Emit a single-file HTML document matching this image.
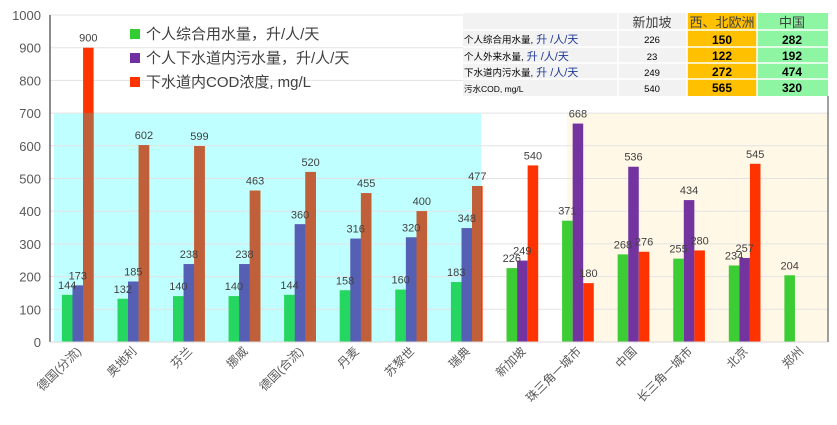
<!DOCTYPE html>
<html><head><meta charset="utf-8"><style>
body{margin:0;background:#fff;width:837px;height:420px;overflow:hidden;font-family:"Liberation Sans","Noto Sans CJK SC",sans-serif}
</style></head><body>
<svg id="chart" width="837" height="420" xmlns="http://www.w3.org/2000/svg" font-family="Liberation Sans, Noto Sans CJK SC, sans-serif">
<defs><clipPath id="cyanClip"><rect x="54" y="113" width="427" height="229"/></clipPath></defs>
<rect x="54" y="113" width="427" height="229" fill="#c0ffff"/>
<rect x="567" y="113" width="261" height="229" fill="#fff8e6"/>
<g id="grid"></g>
<g id="bars"></g>
<g id="muted" clip-path="url(#cyanClip)"></g>
<g id="labels"></g>
<line x1="50" y1="15" x2="50" y2="342" stroke="#404040" stroke-width="1.2"/>
<line x1="50" y1="342" x2="828" y2="342" stroke="#d9d9d9" stroke-width="1"/>
<line x1="828" y1="96" x2="828" y2="342" stroke="#404040" stroke-width="1"/>
<g font-size="15" fill="#404040">
<rect x="130" y="29" width="10" height="10" fill="#33cc33"/>
<text x="146" y="39">个人综合用水量，升/人/天</text>
<rect x="130" y="53" width="10" height="10" fill="#7030a0"/>
<text x="146" y="63">个人下水道内污水量，升/人/天</text>
<rect x="130" y="77" width="10" height="10" fill="#ff3300"/>
<text x="146" y="87">下水道内COD浓度, mg/L</text>
</g>
<g font-size="9.5" fill="#000">
<rect x="463" y="13" width="365" height="83" fill="#f2f2f2"/>
<rect x="687" y="13" width="70" height="83" fill="#ffc000"/>
<rect x="757" y="13" width="71" height="83" fill="#8ef5a2"/>
<g stroke="#fff" stroke-width="1.5">
<line x1="463" y1="30" x2="828" y2="30"/><line x1="463" y1="47" x2="828" y2="47"/><line x1="463" y1="63" x2="828" y2="63"/><line x1="463" y1="79" x2="828" y2="79"/>
<line x1="618" y1="13" x2="618" y2="96"/><line x1="687" y1="13" x2="687" y2="96"/><line x1="757" y1="13" x2="757" y2="96"/>
</g>
<g font-size="13" fill="#404040" text-anchor="middle"><text x="652" y="27">新加坡</text><text x="722" y="27">西、北欧洲</text><text x="792" y="27">中国</text></g>
<text x="464" y="43">个人综合用水量,<tspan fill="#1f3a93" font-size="11"> 升 /人/天</tspan></text>
<text x="464" y="60">个人外来水量,<tspan fill="#1f3a93" font-size="11"> 升 /人/天</tspan></text>
<text x="464" y="76">下水道内污水量,<tspan fill="#1f3a93" font-size="11"> 升 /人/天</tspan></text>
<text x="464" y="92" font-size="8.5">污水COD, mg/L</text>
<g text-anchor="middle"><text x="652" y="43">226</text><text x="652" y="60">23</text><text x="652" y="76">249</text><text x="652" y="92">540</text></g>
<g text-anchor="middle" font-weight="bold" font-size="12"><text x="722" y="44">150</text><text x="722" y="60">122</text><text x="722" y="76">272</text><text x="722" y="92">565</text>
<text x="792" y="44">282</text><text x="792" y="60">192</text><text x="792" y="76">474</text><text x="792" y="92">320</text></g>
</g>
</svg>
<script>
const categories=["德国(分流)","奥地利","芬兰","挪威","德国(合流)","丹麦","苏黎世","瑞典","新加坡","珠三角一城市","中国","长三角一城市","北京","郑州"];
const totalWater=[144,132,140,140,144,158,160,183,226,371,268,255,234,204];
const sewerWater=[173,185,238,238,360,316,320,348,249,668,536,434,257,null];
const codConc=[900,602,599,463,520,455,400,477,540,180,276,280,545,null];
const yTicks=[0,100,200,300,400,500,600,700,800,900,1000];
const X0=50,X1=828,Y0=342,Ytop=15;
const cw=(X1-X0)/categories.length, bw=cw*0.19;
const y=v=>Y0-(v/1000)*(Y0-Ytop);
const xc=i=>X0+cw*(i+0.5);
const NS="http://www.w3.org/2000/svg";
function mk(tag,attrs,parent){const e=document.createElementNS(NS,tag);for(const k in attrs)e.setAttribute(k,attrs[k]);parent.appendChild(e);return e;}
const grid=document.getElementById('grid'),bars=document.getElementById('bars'),muted=document.getElementById('muted'),labels=document.getElementById('labels');
yTicks.forEach(t=>{
 const l=mk('line',{x1:X0,x2:X1,y1:y(t),y2:y(t),stroke:'#e3e3e3'},grid);
 
 
 const tx=mk('text',{x:41,y:y(t)+5,'text-anchor':'end','font-size':13,fill:'#595959'},labels);
 
 
 tx.textContent=t;
});
const series=[{d:totalWater,c:'#3ccc33',m:'#25d660',o:-1.5,n:'total-water'},{d:sewerWater,c:'#7434a0',m:'#5560b5',o:-0.5,n:'sewer-water'},{d:codConc,c:'#ff3300',m:'#c0603a',o:0.5,n:'cod'}];
series.forEach(s=>{
 s.d.forEach((v,i)=>{
  if(v==null)return;
  const x=xc(i)+s.o*bw;
  const r=mk('rect',{x:x,y:y(v),width:bw,height:Y0-y(v),fill:s.c},bars);
  
  
  const r2=mk('rect',{x:x,y:y(v),width:bw,height:Y0-y(v),fill:s.m},muted);
  
  
  const t=mk('text',{x:x+bw/2,y:y(v)-6,'text-anchor':'middle','font-size':11,fill:'#404040'},labels);
  
  
  t.textContent=v;
 });
});
categories.forEach((c,i)=>{
 const x=xc(i)+4,yy=352;
 const t=mk('text',{x:x,y:yy,'text-anchor':'end','font-size':12,fill:'#595959',transform:`rotate(-45 ${x} ${yy})`},labels);
 
 
 t.textContent=c;
});
</script>
</body></html>
